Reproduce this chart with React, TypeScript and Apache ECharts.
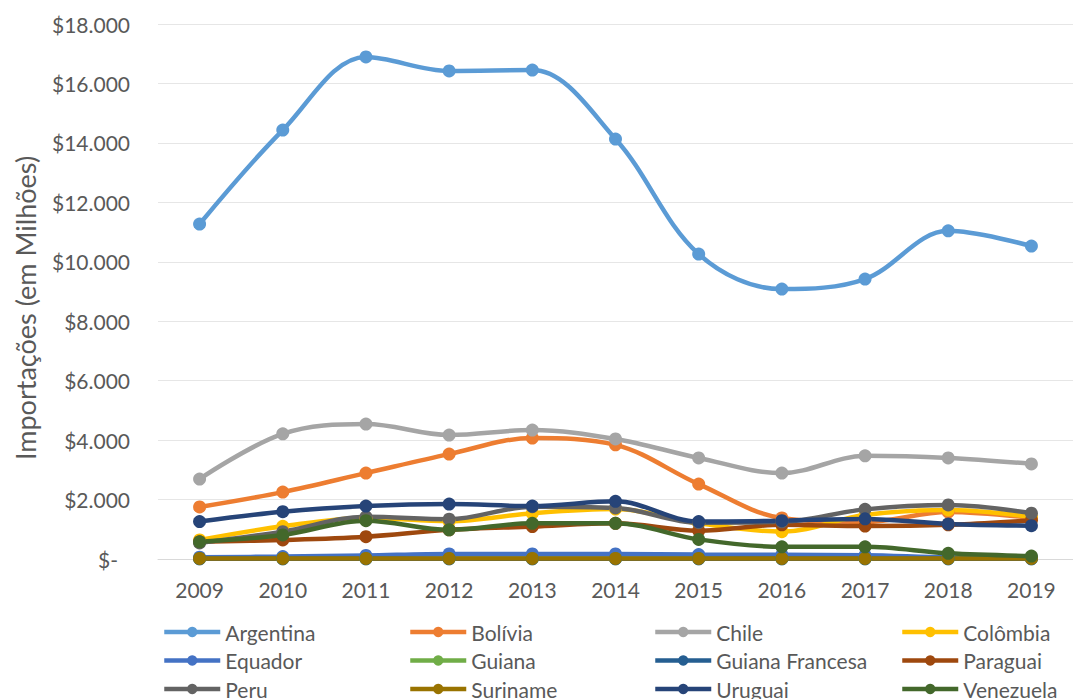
import React, { useEffect, useRef } from "react";
import * as echarts from "echarts";

// Anos do eixo horizontal
const years = ["2009", "2010", "2011", "2012", "2013", "2014", "2015", "2016", "2017", "2018", "2019"];

// Importações por país (US$ milhões)
const argentina = [11270, 14430, 16890, 16420, 16450, 14130, 10260, 9080, 9420, 11040, 10530];
const bolivia = [1750, 2250, 2890, 3530, 4070, 3840, 2520, 1380, 1250, 1580, 1380];
const chile = [2690, 4210, 4540, 4170, 4340, 4040, 3400, 2890, 3470, 3400, 3200];
const colombia = [640, 1100, 1380, 1270, 1540, 1680, 1200, 920, 1480, 1650, 1420];
const equador = [60, 80, 120, 170, 170, 170, 150, 140, 130, 60, 50];
const guiana = [10, 10, 10, 10, 10, 10, 10, 10, 10, 10, 10];
const guianaFrancesa = [5, 5, 5, 5, 5, 5, 5, 5, 5, 5, 5];
const paraguai = [580, 640, 750, 980, 1090, 1200, 950, 1150, 1110, 1150, 1300];
const peru = [540, 920, 1420, 1340, 1760, 1720, 1220, 1250, 1670, 1820, 1540];
const suriname = [20, 20, 20, 20, 20, 20, 20, 20, 20, 20, 20];
const uruguai = [1260, 1590, 1780, 1850, 1780, 1940, 1260, 1290, 1350, 1180, 1120];
const venezuela = [580, 810, 1290, 980, 1200, 1200, 660, 410, 410, 190, 100];

// Valores do eixo vertical
const yMin = 0;
const yMax = 18000;
const yStep = 2000;

const countries = [
  { name: "Argentina", data: argentina, color: "#5b9bd5" },
  { name: "Bolívia", data: bolivia, color: "#ed7d31" },
  { name: "Chile", data: chile, color: "#a5a5a5" },
  { name: "Colômbia", data: colombia, color: "#ffc000" },
  { name: "Equador", data: equador, color: "#4472c4" },
  { name: "Guiana", data: guiana, color: "#70ad47" },
  { name: "Guiana Francesa", data: guianaFrancesa, color: "#255e91" },
  { name: "Paraguai", data: paraguai, color: "#9e480e" },
  { name: "Peru", data: peru, color: "#636363" },
  { name: "Suriname", data: suriname, color: "#997300" },
  { name: "Uruguai", data: uruguai, color: "#264478" },
  { name: "Venezuela", data: venezuela, color: "#43682b" },
];

const FONT = "Lato, 'Open Sans', sans-serif";
const TEXT_COLOR = "#595959";

const legendColumns = [157, 403, 648, 895];

export default function App() {
  const ref = useRef<HTMLDivElement>(null);

  useEffect(() => {
    if (!ref.current) return;
    const chart = echarts.init(ref.current, undefined, { renderer: "svg" });

    const legends = legendColumns.map((left, col) => ({
      orient: "vertical" as const,
      left,
      top: 615,
      height: 140,
      itemWidth: 56,
      itemHeight: 13,
      itemGap: 4.5,
      selectedMode: false,
      lineStyle: { width: 4.5 },
      data: [0, 1, 2].map((row) => countries[row * 4 + col].name),
      textStyle: {
        fontFamily: FONT,
        fontSize: 21,
        color: TEXT_COLOR,
        lineHeight: 24,
      },
    }));

    chart.setOption({
      animation: false,
      backgroundColor: "#ffffff",
      textStyle: { fontFamily: FONT },
      grid: { left: 158, top: 24, width: 928, height: 535 },
      legend: legends,
      graphic: [
        {
          type: "text",
          x: 25,
          y: 308,
          rotation: Math.PI / 2,
          style: {
            text: "Importações (em Milhões)",
            fontFamily: FONT,
            fontSize: 27,
            fill: TEXT_COLOR,
            align: "center",
            verticalAlign: "middle",
          },
        },
      ],
      xAxis: {
        type: "category",
        data: years,
        boundaryGap: true,
        axisLine: { show: true, lineStyle: { color: "#d9d9d9", width: 1 } },
        axisTick: { show: false },
        axisLabel: {
          margin: 20,
          fontFamily: FONT,
          fontSize: 21,
          color: TEXT_COLOR,
        },
      },
      yAxis: {
        type: "value",
        min: yMin,
        max: yMax,
        interval: yStep,
        axisLine: { show: false },
        axisTick: { show: false },
        splitLine: { lineStyle: { color: "#e6e6e6", width: 1 } },
        axisLabel: {
          margin: 28,
          fontFamily: FONT,
          fontSize: 21,
          color: TEXT_COLOR,
          formatter: (v: number) =>
            v === 0 ? "{z|$-}" : "$" + String(v / 1000) + ".000",
          rich: {
            z: {
              fontFamily: FONT,
              fontSize: 21,
              color: TEXT_COLOR,
              padding: [0, 12, 0, 0],
            },
          },
        },
      },
      series: countries.map((c) => ({
        name: c.name,
        type: "line",
        data: c.data,
        smooth: 0.35,
        symbol: "circle",
        symbolSize: 13,
        showSymbol: true,
        lineStyle: { color: c.color, width: 4.5 },
        itemStyle: { color: c.color },
        emphasis: { disabled: true },
      })),
    });

    return () => chart.dispose();
  }, []);

  return (
    <div
      ref={ref}
      style={{ position: "absolute", left: 0, top: 0, width: 1073, height: 699 }}
    />
  );
}
